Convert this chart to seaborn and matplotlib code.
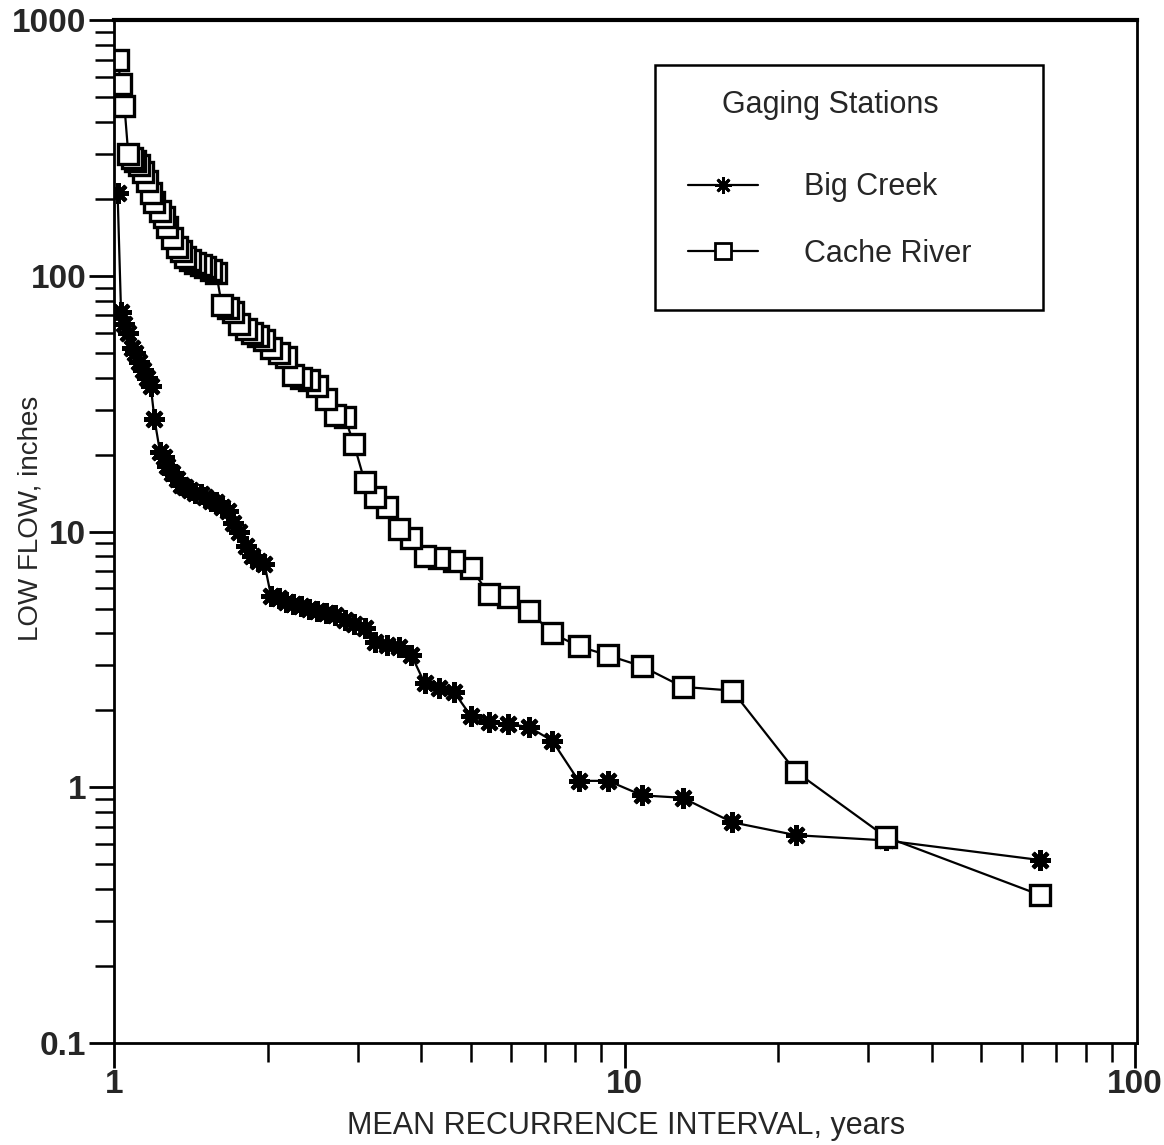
import numpy as np
import pandas as pd
import matplotlib
matplotlib.use("Agg")
import matplotlib.pyplot as plt
import matplotlib.ticker as mticker
from matplotlib.patches import Rectangle
import seaborn as sns

# mean recurrence interval, years (same plotting positions for both stations)
interval = [65, 32.5, 21.67, 16.25, 13.0, 10.83, 9.29, 8.13, 7.22, 6.5,
            5.91, 5.42, 5.0, 4.64, 4.33, 4.06, 3.82, 3.61, 3.42, 3.25,
            3.10, 2.95, 2.83, 2.71, 2.6, 2.5, 2.41, 2.32, 2.24, 2.17,
            2.10, 2.03, 1.97, 1.91, 1.86, 1.81, 1.76, 1.71, 1.67, 1.625,
            1.585, 1.55, 1.51, 1.48, 1.44, 1.41, 1.38, 1.35, 1.33, 1.30,
            1.27, 1.25, 1.23, 1.20, 1.18, 1.16, 1.14, 1.12, 1.10, 1.083,
            1.066, 1.048, 1.032, 1.016]

big_creek = [0.52, 0.62, 0.65, 0.73, 0.91, 0.93, 1.06, 1.06, 1.52, 1.72,
             1.77, 1.8, 1.9, 2.35, 2.45, 2.55, 3.3, 3.55, 3.6, 3.7,
             4.2, 4.35, 4.5, 4.7, 4.8, 4.9, 5.0, 5.1, 5.2, 5.3,
             5.5, 5.6, 7.5, 7.7, 8.0, 8.8, 10.0, 10.8, 12.0, 12.5,
             13.0, 13.2, 13.6, 14.0, 14.2, 14.5, 15.0, 15.2, 16.0, 17.0,
             18.0, 19.5, 20.5, 27.5, 37, 40, 43, 46, 50, 52,
             60, 65, 72, 210]

cache_river = [0.38, 0.64, 1.15, 2.39, 2.47, 2.97, 3.28, 3.56, 4.0, 4.89,
               5.55, 5.7, 7.22, 7.69, 7.9, 8.0, 9.4, 10.2, 12.5, 13.6,
               15.6, 22.0, 28.0, 28.5, 33, 37, 39, 40, 41, 48,
               50, 52, 56, 58, 60, 62, 65, 72, 75, 77,
               103, 105, 108, 110, 112, 115, 118, 125, 130, 140,
               155, 170, 180, 195, 210, 235, 255, 270, 280, 290,
               300, 460, 560, 700]

sns.set_theme(style="ticks")
plt.rcParams["font.family"] = ["Liberation Sans", "DejaVu Sans"]

fig = plt.figure(figsize=(11.64, 11.45), dpi=100)
ax = fig.add_axes([0.098, 0.089, 0.879, 0.8935])

sns.lineplot(x=interval, y=big_creek, ax=ax, color="black", lw=1.6, sort=False,
             marker=(8, 2, 0), markersize=15, markeredgewidth=3,
             markeredgecolor="black", label="Big Creek")
sns.lineplot(x=interval, y=cache_river, ax=ax, color="black", lw=1.6, sort=False,
             marker="s", markersize=14, markerfacecolor="white",
             markeredgecolor="black", markeredgewidth=2.4, label="Cache River")

ax.set_xscale("log")
ax.set_yscale("log")
ax.set_xlim(1, 101)
ax.set_ylim(0.1, 1000)

ax.xaxis.set_major_locator(mticker.FixedLocator([1, 10, 100]))
ax.xaxis.set_major_formatter(mticker.FixedFormatter(["1", "10", "100"]))
ax.xaxis.set_minor_locator(mticker.LogLocator(base=10, subs=np.arange(2, 10)))
ax.xaxis.set_minor_formatter(mticker.NullFormatter())
ax.yaxis.set_major_locator(mticker.FixedLocator([0.1, 1, 10, 100, 1000]))
ax.yaxis.set_major_formatter(mticker.FixedFormatter(["0.1", "1", "10", "100", "1000"]))
ax.yaxis.set_minor_locator(mticker.LogLocator(base=10, subs=np.arange(2, 10)))
ax.yaxis.set_minor_formatter(mticker.NullFormatter())

ax.tick_params(axis="both", which="major", direction="out", length=18, width=2,
               color="black", labelsize=24)
ax.tick_params(axis="x", which="major", pad=1)
ax.tick_params(axis="y", which="major", pad=2)
ax.tick_params(axis="both", which="minor", direction="out", length=14, width=1.8,
               color="black")
for lab in ax.get_xticklabels() + ax.get_yticklabels():
    lab.set_fontweight("bold")

for side, sp in ax.spines.items():
    sp.set_visible(True)
    sp.set_color("black")
    sp.set_linewidth(2)
ax.spines["top"].set_linewidth(3)

ax.set_xlabel("MEAN RECURRENCE INTERVAL, years", fontsize=22)
ax.xaxis.set_label_coords(0.5, -0.081)
ax.xaxis.label.set_va("center")
ax.set_ylabel("LOW FLOW, inches", fontsize=20)
ax.yaxis.set_label_coords(-0.082, 0.513)
ax.yaxis.label.set_va("center")

# legend frame drawn as its own box
ax.add_patch(Rectangle((0.5288, 0.7165), 0.3792, 0.2395, transform=ax.transAxes,
                       facecolor="white", edgecolor="black", lw=1.8, zorder=4))

leg = ax.legend(title="Gaging Stations", loc="upper left",
                bbox_to_anchor=(0.561, 0.932), frameon=False,
                fontsize=22, title_fontsize=22,
                handlelength=2.3, handletextpad=1.5, labelspacing=1.2,
                borderpad=0, borderaxespad=0)
leg.set_zorder(5)
leg._legend_box.sep = 38
for h in leg.legend_handles:
    h.set_markersize(12)
    h.set_markeredgewidth(2)

fig.savefig("out.png", dpi=100, facecolor="white")
